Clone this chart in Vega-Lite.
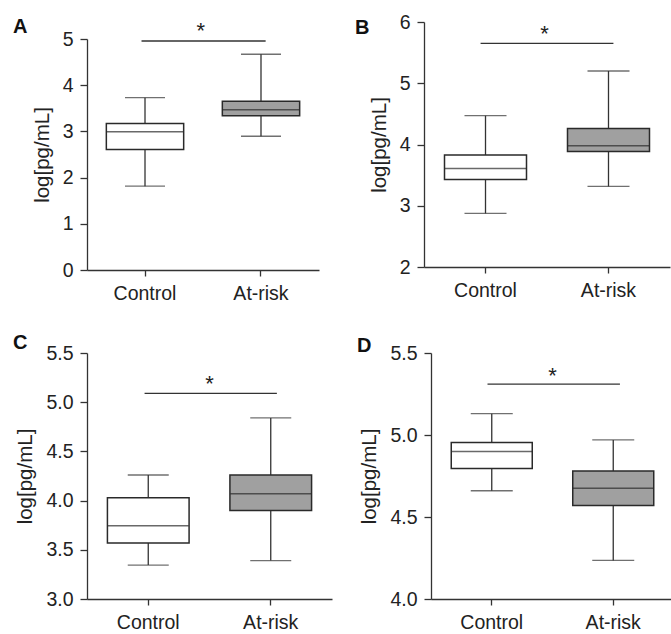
{
  "$schema": "https://vega.github.io/schema/vega-lite/v6.json",
  "padding": {"left": 13, "top": 12, "right": 0, "bottom": 0},
  "background": "white",
  "datasets": {
    "boxes": [
      {"panel": "A", "group": "Control", "min": 1.815, "q1": 2.61, "median": 2.99, "q3": 3.17, "max": 3.73},
      {"panel": "A", "group": "At-risk", "min": 2.895, "q1": 3.34, "median": 3.47, "q3": 3.65, "max": 4.67},
      {"panel": "B", "group": "Control", "min": 2.875, "q1": 3.43, "median": 3.61, "q3": 3.83, "max": 4.47},
      {"panel": "B", "group": "At-risk", "min": 3.315, "q1": 3.886, "median": 3.98, "q3": 4.26, "max": 5.2},
      {"panel": "C", "group": "Control", "min": 3.345, "q1": 3.57, "median": 3.745, "q3": 4.03, "max": 4.26},
      {"panel": "C", "group": "At-risk", "min": 3.39, "q1": 3.9, "median": 4.07, "q3": 4.26, "max": 4.84},
      {"panel": "D", "group": "Control", "min": 4.66, "q1": 4.795, "median": 4.9, "q3": 4.955, "max": 5.13},
      {"panel": "D", "group": "At-risk", "min": 4.235, "q1": 4.57, "median": 4.675, "q3": 4.78, "max": 4.97}
    ],
    "annot": [
      {"panel": "A", "x1": 0.47, "x2": 1.54, "yb": 4.957, "xs": 0.98, "ys": 5.02},
      {"panel": "B", "x1": 0.46, "x2": 1.54, "yb": 5.65, "xs": 0.98, "ys": 5.69},
      {"panel": "C", "x1": 0.47, "x2": 1.55, "yb": 5.09, "xs": 1.0, "ys": 5.11},
      {"panel": "D", "x1": 0.465, "x2": 1.555, "yb": 5.31, "xs": 1.0, "ys": 5.32}
    ]
  },
  "config": {
    "view": {"stroke": null},
    "font": "Liberation Sans",
    "axis": {"grid": false, "labelFont": "Liberation Sans", "labelFontSize": 19.5, "labelColor": "#222", "titleFont": "Liberation Sans", "titleFontSize": 20.5, "titleFontWeight": "normal", "titleColor": "#222", "domainColor": "#333", "tickColor": "#333", "domainWidth": 1.3, "tickWidth": 1.3, "tickSize": 7, "labelPadding": 7, "titlePadding": 10},
    "axisX": {"labelAngle": 0, "tickSize": 6, "labelPadding": 8},
    "title": {"font": "Liberation Sans", "fontSize": 20, "fontWeight": "bold", "color": "#111", "anchor": "start", "frame": "group", "offset": 0}
  },
  "spacing": 30,
  "vconcat": [
    {
      "spacing": 36,
      "hconcat": [
        {
          "width": 232, "height": 248,
          "title": {"text": "A", "dx": -74, "dy": 17, "offset": 0},
          "layer": [
            {
              "data": {"name": "boxes"},
              "transform": [{"filter": "datum.panel === 'A'"}],
              "encoding": {"x": {"field": "group", "type": "nominal", "sort": ["Control", "At-risk"], "scale": {"paddingInner": 0.3333, "paddingOuter": 0.1667}, "axis": {"title": null}}},
              "layer": [
                {"mark": {"type": "rule", "color": "#333", "strokeWidth": 1.3}, "encoding": {"y": {"field": "min", "type": "quantitative", "title": "log[pg/mL]", "scale": {"domain": [0, 5], "range": [248, 17], "nice": false, "zero": false}, "axis": {"values": [0, 1, 2, 3, 4, 5], "format": "d"}}, "y2": {"field": "max"}}},
                {"mark": {"type": "tick", "color": "#333", "size": 40, "thickness": 1.3}, "encoding": {"y": {"field": "min", "type": "quantitative"}}},
                {"mark": {"type": "tick", "color": "#333", "size": 40, "thickness": 1.3}, "encoding": {"y": {"field": "max", "type": "quantitative"}}},
                {"mark": {"type": "bar", "stroke": "#2a2a2a", "strokeWidth": 1.5}, "encoding": {"y": {"field": "q1", "type": "quantitative"}, "y2": {"field": "q3"}, "fill": {"field": "group", "type": "nominal", "scale": {"domain": ["Control", "At-risk"], "range": ["#ffffff", "#a0a0a0"]}, "legend": null}}},
                {"mark": {"type": "tick", "color": "#2a2a2a", "size": 77, "thickness": 1.5}, "encoding": {"y": {"field": "median", "type": "quantitative"}}}
              ]
            },
            {
              "data": {"name": "annot"},
              "transform": [{"filter": "datum.panel === 'A'"}],
              "layer": [
                {"mark": {"type": "rule", "color": "#333", "strokeWidth": 1.3}, "encoding": {"x": {"field": "x1", "type": "quantitative", "scale": {"domain": [0, 2], "nice": false, "zero": false}, "axis": null}, "x2": {"field": "x2"}, "y": {"field": "yb", "type": "quantitative"}}},
                {"mark": {"type": "text", "text": "*", "fontSize": 22, "baseline": "alphabetic", "color": "#222"}, "encoding": {"x": {"field": "xs", "type": "quantitative", "scale": {"domain": [0, 2], "nice": false, "zero": false}, "axis": null}, "y": {"field": "ys", "type": "quantitative"}}}
              ]
            }
          ],
          "resolve": {"scale": {"x": "independent"}}
        },
        {
          "width": 246, "height": 245,
          "title": {"text": "B", "dx": -69, "dy": 26, "offset": 0},
          "layer": [
            {
              "data": {"name": "boxes"},
              "transform": [{"filter": "datum.panel === 'B'"}],
              "encoding": {"x": {"field": "group", "type": "nominal", "sort": ["Control", "At-risk"], "scale": {"paddingInner": 0.3333, "paddingOuter": 0.1667}, "axis": {"title": null}}},
              "layer": [
                {"mark": {"type": "rule", "color": "#333", "strokeWidth": 1.3}, "encoding": {"y": {"field": "min", "type": "quantitative", "title": "log[pg/mL]", "scale": {"domain": [2, 6], "nice": false, "zero": false}, "axis": {"values": [2, 3, 4, 5, 6], "format": "d"}}, "y2": {"field": "max"}}},
                {"mark": {"type": "tick", "color": "#333", "size": 42, "thickness": 1.3}, "encoding": {"y": {"field": "min", "type": "quantitative"}}},
                {"mark": {"type": "tick", "color": "#333", "size": 42, "thickness": 1.3}, "encoding": {"y": {"field": "max", "type": "quantitative"}}},
                {"mark": {"type": "bar", "stroke": "#2a2a2a", "strokeWidth": 1.5}, "encoding": {"y": {"field": "q1", "type": "quantitative"}, "y2": {"field": "q3"}, "fill": {"field": "group", "type": "nominal", "scale": {"domain": ["Control", "At-risk"], "range": ["#ffffff", "#a0a0a0"]}, "legend": null}}},
                {"mark": {"type": "tick", "color": "#2a2a2a", "size": 82, "thickness": 1.5}, "encoding": {"y": {"field": "median", "type": "quantitative"}}}
              ]
            },
            {
              "data": {"name": "annot"},
              "transform": [{"filter": "datum.panel === 'B'"}],
              "layer": [
                {"mark": {"type": "rule", "color": "#333", "strokeWidth": 1.3}, "encoding": {"x": {"field": "x1", "type": "quantitative", "scale": {"domain": [0, 2], "nice": false, "zero": false}, "axis": null}, "x2": {"field": "x2"}, "y": {"field": "yb", "type": "quantitative"}}},
                {"mark": {"type": "text", "text": "*", "fontSize": 22, "baseline": "alphabetic", "color": "#222"}, "encoding": {"x": {"field": "xs", "type": "quantitative", "scale": {"domain": [0, 2], "nice": false, "zero": false}, "axis": null}, "y": {"field": "ys", "type": "quantitative"}}}
              ]
            }
          ],
          "resolve": {"scale": {"x": "independent"}}
        }
      ]
    },
    {
      "spacing": 25,
      "hconcat": [
        {
          "width": 245, "height": 246,
          "title": {"text": "C", "dx": -74, "dy": 10, "offset": 0},
          "layer": [
            {
              "data": {"name": "boxes"},
              "transform": [{"filter": "datum.panel === 'C'"}],
              "encoding": {"x": {"field": "group", "type": "nominal", "sort": ["Control", "At-risk"], "scale": {"paddingInner": 0.3333, "paddingOuter": 0.1667}, "axis": {"title": null}}},
              "layer": [
                {"mark": {"type": "rule", "color": "#333", "strokeWidth": 1.3}, "encoding": {"y": {"field": "min", "type": "quantitative", "title": "log[pg/mL]", "scale": {"domain": [3, 5.5], "nice": false, "zero": false}, "axis": {"values": [3, 3.5, 4, 4.5, 5, 5.5], "format": ".1f"}}, "y2": {"field": "max"}}},
                {"mark": {"type": "tick", "color": "#333", "size": 41, "thickness": 1.3}, "encoding": {"y": {"field": "min", "type": "quantitative"}}},
                {"mark": {"type": "tick", "color": "#333", "size": 41, "thickness": 1.3}, "encoding": {"y": {"field": "max", "type": "quantitative"}}},
                {"mark": {"type": "bar", "stroke": "#2a2a2a", "strokeWidth": 1.5}, "encoding": {"y": {"field": "q1", "type": "quantitative"}, "y2": {"field": "q3"}, "fill": {"field": "group", "type": "nominal", "scale": {"domain": ["Control", "At-risk"], "range": ["#ffffff", "#a0a0a0"]}, "legend": null}}},
                {"mark": {"type": "tick", "color": "#2a2a2a", "size": 81, "thickness": 1.5}, "encoding": {"y": {"field": "median", "type": "quantitative"}}}
              ]
            },
            {
              "data": {"name": "annot"},
              "transform": [{"filter": "datum.panel === 'C'"}],
              "layer": [
                {"mark": {"type": "rule", "color": "#333", "strokeWidth": 1.3}, "encoding": {"x": {"field": "x1", "type": "quantitative", "scale": {"domain": [0, 2], "nice": false, "zero": false}, "axis": null}, "x2": {"field": "x2"}, "y": {"field": "yb", "type": "quantitative"}}},
                {"mark": {"type": "text", "text": "*", "fontSize": 22, "baseline": "alphabetic", "color": "#222"}, "encoding": {"x": {"field": "xs", "type": "quantitative", "scale": {"domain": [0, 2], "nice": false, "zero": false}, "axis": null}, "y": {"field": "ys", "type": "quantitative"}}}
              ]
            }
          ],
          "resolve": {"scale": {"x": "independent"}}
        },
        {
          "width": 243, "height": 246,
          "title": {"text": "D", "dx": -74, "dy": 13, "offset": 0},
          "layer": [
            {
              "data": {"name": "boxes"},
              "transform": [{"filter": "datum.panel === 'D'"}],
              "encoding": {"x": {"field": "group", "type": "nominal", "sort": ["Control", "At-risk"], "scale": {"paddingInner": 0.3333, "paddingOuter": 0.1667}, "axis": {"title": null}}},
              "layer": [
                {"mark": {"type": "rule", "color": "#333", "strokeWidth": 1.3}, "encoding": {"y": {"field": "min", "type": "quantitative", "title": "log[pg/mL]", "scale": {"domain": [4, 5.5], "nice": false, "zero": false}, "axis": {"values": [4, 4.5, 5, 5.5], "format": ".1f"}}, "y2": {"field": "max"}}},
                {"mark": {"type": "tick", "color": "#333", "size": 42, "thickness": 1.3}, "encoding": {"y": {"field": "min", "type": "quantitative"}}},
                {"mark": {"type": "tick", "color": "#333", "size": 42, "thickness": 1.3}, "encoding": {"y": {"field": "max", "type": "quantitative"}}},
                {"mark": {"type": "bar", "stroke": "#2a2a2a", "strokeWidth": 1.5}, "encoding": {"y": {"field": "q1", "type": "quantitative"}, "y2": {"field": "q3"}, "fill": {"field": "group", "type": "nominal", "scale": {"domain": ["Control", "At-risk"], "range": ["#ffffff", "#a0a0a0"]}, "legend": null}}},
                {"mark": {"type": "tick", "color": "#2a2a2a", "size": 81, "thickness": 1.5}, "encoding": {"y": {"field": "median", "type": "quantitative"}}}
              ]
            },
            {
              "data": {"name": "annot"},
              "transform": [{"filter": "datum.panel === 'D'"}],
              "layer": [
                {"mark": {"type": "rule", "color": "#333", "strokeWidth": 1.3}, "encoding": {"x": {"field": "x1", "type": "quantitative", "scale": {"domain": [0, 2], "nice": false, "zero": false}, "axis": null}, "x2": {"field": "x2"}, "y": {"field": "yb", "type": "quantitative"}}},
                {"mark": {"type": "text", "text": "*", "fontSize": 22, "baseline": "alphabetic", "color": "#222"}, "encoding": {"x": {"field": "xs", "type": "quantitative", "scale": {"domain": [0, 2], "nice": false, "zero": false}, "axis": null}, "y": {"field": "ys", "type": "quantitative"}}}
              ]
            }
          ],
          "resolve": {"scale": {"x": "independent"}}
        }
      ]
    }
  ]
}
